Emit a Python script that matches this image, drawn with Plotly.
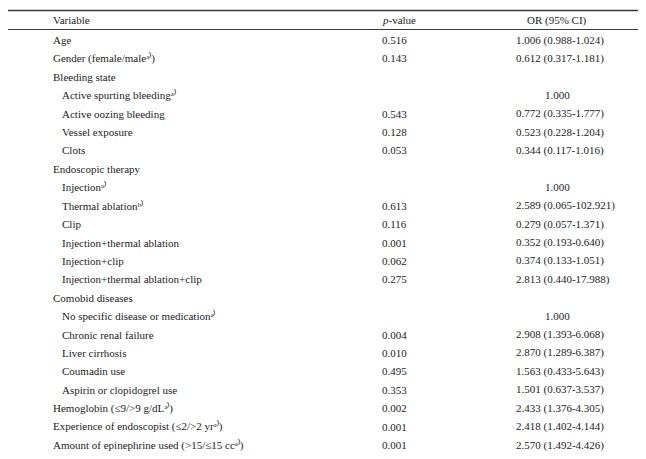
import plotly.graph_objects as go

headers = ["Variable", "<i>p</i>-value", "OR (95% CI)"]

variables = [
    "Age",
    "Gender (female/maleᵃ⁾)",
    "Bleeding state",
    "Active spurting bleedingᵃ⁾",
    "Active oozing bleeding",
    "Vessel exposure",
    "Clots",
    "Endoscopic therapy",
    "Injectionᵃ⁾",
    "Thermal ablationᵇ⁾",
    "Clip",
    "Injection+thermal ablation",
    "Injection+clip",
    "Injection+thermal ablation+clip",
    "Comobid diseases",
    "No specific disease or medicationᵃ⁾",
    "Chronic renal failure",
    "Liver cirrhosis",
    "Coumadin use",
    "Aspirin or clopidogrel use",
    "Hemoglobin (≤9/>9 g/dLᵃ⁾)",
    "Experience of endoscopist (≤2/>2 yrᵃ⁾)",
    "Amount of epinephrine used (>15/≤15 ccᵃ⁾)",
]
indent_level = [0, 0, 0, 1, 1, 1, 1, 0, 1, 1, 1, 1, 1, 1, 0, 1, 1, 1, 1, 1, 0, 0, 0]

p_values = ["0.516", "0.143", "", "", "0.543", "0.128", "0.053", "", "", "0.613",
            "0.116", "0.001", "0.062", "0.275", "", "", "0.004", "0.010", "0.495",
            "0.353", "0.002", "0.001", "0.001"]

or_ci = ["1.006 (0.988-1.024)", "0.612 (0.317-1.181)", "", "1.000",
         "0.772 (0.335-1.777)", "0.523 (0.228-1.204)", "0.344 (0.117-1.016)", "",
         "1.000", "2.589 (0.065-102.921)", "0.279 (0.057-1.371)",
         "0.352 (0.193-0.640)", "0.374 (0.133-1.051)", "2.813 (0.440-17.988)", "",
         "1.000", "2.908 (1.393-6.068)", "2.870 (1.289-6.387)", "1.563 (0.433-5.643)",
         "1.501 (0.637-3.537)", "2.433 (1.376-4.305)", "2.418 (1.402-4.144)",
         "2.570 (1.492-4.426)"]

W, H = 646, 459
FONT = dict(family="Liberation Serif, Times New Roman, serif", size=11, color="#1e1b1c")
LINE = "#3a3a3a"

row0, row_h = 32.0, 18.41
x_var, x_indent = 43, 52
x_p = 386
x_or_left = 506
x_or_center = 549

fig = go.Figure()
ann = []
# header
ann.append(dict(x=x_var, y=12, text=headers[0], xanchor="left"))
ann.append(dict(x=391, y=12, text=headers[1], xanchor="center"))
ann.append(dict(x=x_or_center, y=12, text=headers[2], xanchor="center"))

for i, (v, lvl, p, o) in enumerate(zip(variables, indent_level, p_values, or_ci)):
    y = row0 + i * row_h
    ann.append(dict(x=x_indent if lvl else x_var, y=y, text=v, xanchor="left"))
    if p:
        ann.append(dict(x=x_p, y=y, text=p, xanchor="center"))
    if o:
        if "(" in o:
            ann.append(dict(x=x_or_left, y=y, text=o, xanchor="left"))
        else:
            ann.append(dict(x=x_or_center, y=y, text=o, xanchor="center"))

for a in ann:
    a.update(xref="x", yref="y", showarrow=False, yanchor="middle", font=FONT)

shapes = [
    dict(type="line", xref="x", yref="y", x0=0, x1=W, y0=2.5, y1=2.5, line=dict(color=LINE, width=1.6)),
    dict(type="line", xref="x", yref="y", x0=0, x1=W, y0=21.5, y1=21.5, line=dict(color=LINE, width=1)),
    dict(type="line", xref="x", yref="y", x0=0, x1=W, y0=456, y1=456, line=dict(color=LINE, width=1.6)),
]

fig.update_layout(
    width=W, height=H,
    margin=dict(l=0, r=0, t=0, b=0),
    paper_bgcolor="white", plot_bgcolor="white",
    xaxis=dict(range=[0, W], visible=False, fixedrange=True),
    yaxis=dict(range=[H, 0], visible=False, fixedrange=True),
    annotations=ann, shapes=shapes, showlegend=False,
)
fig.write_html("out.html")
